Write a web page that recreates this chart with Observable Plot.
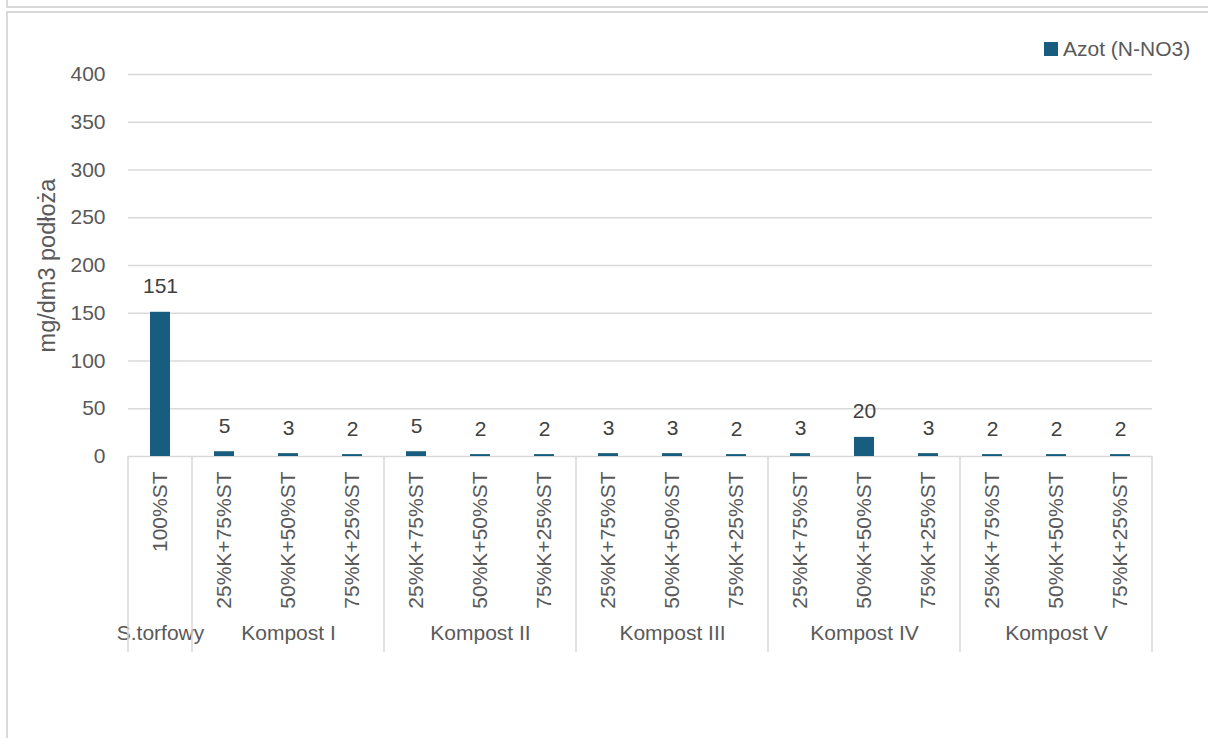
<!DOCTYPE html>
<html><head><meta charset="utf-8">
<script src="https://cdn.jsdelivr.net/npm/d3@7"></script>
<script src="https://cdn.jsdelivr.net/npm/@observablehq/plot@0.6"></script>
<style>
body{margin:0;background:#fff;font-family:"Liberation Sans",Arial,sans-serif;}
#wrap{position:relative;width:1208px;height:738px;overflow:hidden;}
.prev{position:absolute;left:6px;top:-4px;width:1220px;height:10px;border-left:2px solid #d9d9d9;border-bottom:2px solid #d9d9d9;}
.box{position:absolute;left:6px;top:11px;width:1220px;height:760px;border-left:2px solid #d9d9d9;border-top:2px solid #d9d9d9;}
#legend{position:absolute;left:1044px;top:37px;font-size:21px;color:#595959;display:flex;align-items:center;white-space:nowrap;}
#legend .sw{width:14px;height:14px;background:#185d7f;margin-right:5px;}
#chart{position:absolute;left:0;top:0;}
</style></head>
<body>
<div id="wrap">
  <div class="prev"></div>
  <div class="box"></div>
  <div id="chart"></div>
  <div id="legend"><span class="sw"></span><span>Azot (N-NO3)</span></div>
</div>
<script>
const group = ["S.torfowy","Kompost I","Kompost I","Kompost I","Kompost II","Kompost II","Kompost II","Kompost III","Kompost III","Kompost III","Kompost IV","Kompost IV","Kompost IV","Kompost V","Kompost V","Kompost V"];
const mixture = ["100%ST","25%K+75%ST","50%K+50%ST","75%K+25%ST","25%K+75%ST","50%K+50%ST","75%K+25%ST","25%K+75%ST","50%K+50%ST","75%K+25%ST","25%K+75%ST","50%K+50%ST","75%K+25%ST","25%K+75%ST","50%K+50%ST","75%K+25%ST"];
const nitrate = [151,5,3,2,5,2,2,3,3,2,3,20,3,2,2,2];
const yTicks = [0,50,100,150,200,250,300,350,400];
const yLabel = "mg/dm3 podłoża";
const seriesName = "Azot (N-NO3)";

const data = mixture.map((m,i)=>({key:i, group:group[i], mixture:m, value:nitrate[i]}));
const groupNames = [...new Set(group)];
const groupData = groupNames.map(g=>{
  const keys = data.filter(d=>d.group===g).map(d=>d.key);
  return {name:g, first:keys[0], last:keys[keys.length-1], mid:keys[Math.floor(keys.length/2)]};
});

const FONT = "'Liberation Sans', Arial, sans-serif";
const plot = Plot.plot({
  width:1208, height:738,
  marginLeft:128, marginRight:56, marginTop:74, marginBottom:282,
  style:{fontFamily:FONT, fontSize:"21px", color:"#595959", background:"transparent", overflow:"visible"},
  x:{type:"band", domain:data.map(d=>d.key), paddingInner:0.69, paddingOuter:0.345, label:null},
  y:{domain:[0,400], label:null},
  marks:[
    Plot.gridY(yTicks, {stroke:"#d9d9d9", strokeOpacity:1, strokeWidth:1.5}),
    Plot.barY(data, {x:"key", y:"value", fill:"#185d7f"}),
    Plot.text(data, {x:"key", y:"value", text:d=>String(d.value), dy:-19, lineAnchor:"bottom", fill:"#404040", fontSize:21}),
    Plot.axisY(yTicks, {tickSize:0, tickPadding:23, fontSize:21, fill:"#595959", label:null}),
    Plot.axisX({tickSize:0, tickRotate:-90, tickPadding:15, tickFormat:i=>mixture[i], fontSize:21, fill:"#595959", label:null}),
    Plot.text(groupData, {x:"mid", y:()=>0, dy:177, text:"name", fontSize:21, fill:"#595959"}),
    Plot.text([yLabel], {frameAnchor:"left", textAnchor:"middle", dx:-81, rotate:-90, fontSize:23.5, fill:"#595959"})
  ]
});
document.getElementById("chart").appendChild(plot);

// category group separators drawn from the plot's own scales
const xs = plot.scale("x"), ys = plot.scale("y");
const half = xs.step / 2;
const y0 = ys.apply(0);
const bounds = groupData.map(g=>xs.apply(g.first) + xs.bandwidth/2 - half);
bounds.push(xs.apply(groupData[groupData.length-1].last) + xs.bandwidth/2 + half);
const svg = d3.select(plot);
svg.append("g").selectAll("line").data(bounds).join("line")
  .attr("x1",d=>d).attr("x2",d=>d).attr("y1",y0).attr("y2",y0+196)
  .attr("stroke","#d9d9d9").attr("stroke-width",1.5);
</script>
</body></html>
